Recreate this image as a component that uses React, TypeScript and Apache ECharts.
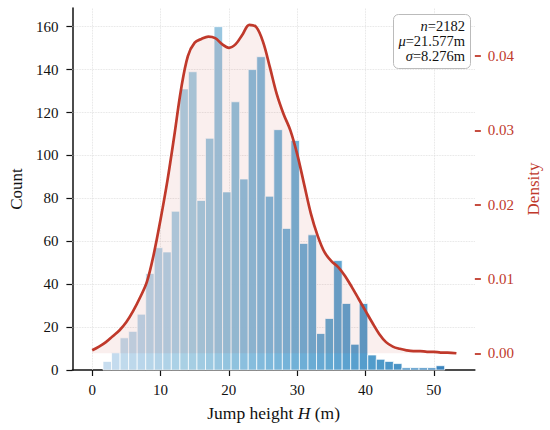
import React, { useEffect, useRef } from "react";
import * as echarts from "echarts";

// Histogram: 40 bins starting at 1.58 m, width 1.25 m
const BIN_START = 1.58;
const BIN_WIDTH = 1.25;
const counts = [
  4, 8, 15, 18, 26, 45, 57, 55, 74, 131,
  139, 79, 108, 160, 83, 125, 89, 140, 146, 81,
  112, 66, 107, 59, 63, 17, 24, 51, 31, 12,
  31, 7, 5, 4, 3, 1, 1, 1, 1, 2,
];

// KDE curve (density)
const kdeX = [
  0, 1, 2, 3, 4, 5, 6, 7, 8, 9, 10, 11, 12, 13, 14, 15, 16, 17, 18, 19, 20,
  21, 22, 23, 24, 25, 26, 27, 28, 29, 30, 31, 32, 33, 34, 35, 36, 37, 38, 39,
  40, 41, 42, 43, 44, 45, 46, 47, 48, 49, 50, 51, 52, 53.3,
];
const kdeY = [
  0.0004, 0.0009, 0.0015, 0.0023, 0.0031, 0.0042, 0.0057, 0.0075, 0.0096, 0.0133,
  0.018, 0.0232, 0.0292, 0.0355, 0.04, 0.0418, 0.0423, 0.0426, 0.0424, 0.0416,
  0.0411, 0.0416, 0.0429, 0.0442, 0.0439, 0.0419, 0.0385, 0.0349, 0.0322, 0.03,
  0.0268, 0.0228, 0.0188, 0.0158, 0.0136, 0.0124, 0.0116, 0.0104, 0.0089, 0.0073,
  0.0057, 0.0041, 0.0026, 0.0015, 0.0009, 0.0006, 0.0004, 0.0003, 0.0003, 0.0002,
  0.0002, 0.0001, 0.0001, 0.0,
];

const xTicks = [0, 10, 20, 30, 40, 50];
const countTicks = [0, 20, 40, 60, 80, 100, 120, 140, 160];
const densityTicks = [0, 0.01, 0.02, 0.03, 0.04];

const statsLines = [
  { sym: "n", val: "=2182" },
  { sym: "μ", val: "=21.577m" },
  { sym: "σ", val: "=8.276m" },
];

const FONT = "Liberation Serif";
const RED = "#c0392b";
const BLUES = ["#c6dbef", "#9ecae1", "#6baed6", "#4292c6", "#2171b5"];

export default function App() {
  const ref = useRef<HTMLDivElement>(null);

  useEffect(() => {
    if (!ref.current) return;
    const chart = echarts.init(ref.current, undefined, { renderer: "svg" });

    const n = counts.length;
    const barData = counts.map((c, i) => [
      BIN_START + i * BIN_WIDTH,
      BIN_START + (i + 1) * BIN_WIDTH,
      c,
    ]);
    const barColors = counts.map((_, i) =>
      echarts.color.lerp(0.02 + (i / (n - 1)) * 0.9, BLUES)
    );
    const kdeData = kdeX.map((x, i) => [x, kdeY[i]]);

    const gridLineData: any[] = [
      ...xTicks.map((v) => ({ xAxis: v })),
      ...countTicks.filter((v) => v > 0).map((v) => ({ yAxis: v })),
    ];

    const labelRich = (color: string) => ({
      t: { fontFamily: FONT, fontSize: 15, color },
    });

    const statsText = statsLines
      .map((l) => `{i|${l.sym}}{r|${l.val}}`)
      .join("\n");

    const option: any = {
      animation: false,
      backgroundColor: "#fff",
      textStyle: { fontFamily: FONT },
      grid: { left: 68, right: 72, top: 8, bottom: 60, containLabel: false },
      xAxis: {
        type: "value",
        min: -2.9,
        max: 56.0,
        name: "Jump height {i|H} (m)",
        nameLocation: "middle",
        nameGap: 34,
        nameTextStyle: {
          fontFamily: FONT,
          fontSize: 17.5,
          color: "#111",
          rich: {
            i: { fontFamily: FONT, fontSize: 17.5, fontStyle: "italic", color: "#111" },
          },
        },
        axisLine: { show: true, onZero: false, lineStyle: { color: "#111", width: 1.5 } },
        axisTick: {
          show: true,
          customValues: xTicks,
          length: 6,
          lineStyle: { color: "#111", width: 1.2 },
        },
        axisLabel: {
          fontFamily: FONT,
          fontSize: 15,
          color: "#111",
          customValues: xTicks,
          margin: 12,
          formatter: (v: number) => `{t|${v}}`,
          rich: labelRich("#111"),
        },
        splitLine: { show: false },
      },
      yAxis: [
        {
          type: "value",
          position: "left",
          min: 0,
          max: 168.7,
          name: "Count",
          nameLocation: "middle",
          nameGap: 42,
          nameRotate: 90,
          nameTextStyle: { fontFamily: FONT, fontSize: 17, color: "#111" },
          axisLine: { show: true, onZero: false, lineStyle: { color: "#111", width: 1.5 } },
          axisTick: {
            show: true,
            customValues: countTicks,
            length: 6,
            lineStyle: { color: "#111", width: 1.2 },
          },
          axisLabel: {
            fontFamily: FONT,
            fontSize: 15,
            color: "#111",
            customValues: countTicks,
            margin: 14,
            formatter: (v: number) => `{t|${v}}`,
            rich: labelRich("#111"),
          },
          splitLine: { show: false },
        },
        {
          type: "value",
          position: "right",
          min: -0.00225,
          max: 0.04646,
          name: "Density",
          nameLocation: "middle",
          nameGap: 48,
          nameRotate: 90,
          nameTextStyle: { fontFamily: FONT, fontSize: 17, color: RED },
          axisLine: { show: false, onZero: false },
          axisTick: {
            show: true,
            customValues: densityTicks,
            length: 6,
            lineStyle: { color: RED, width: 1.8 },
          },
          axisLabel: {
            fontFamily: FONT,
            fontSize: 15,
            color: RED,
            customValues: densityTicks,
            margin: 13,
            formatter: (v: number) => `{t|${v.toFixed(2)}}`,
            rich: labelRich(RED),
          },
          splitLine: { show: false },
        },
      ],
      series: [
        {
          type: "custom",
          name: "Count",
          xAxisIndex: 0,
          yAxisIndex: 0,
          z: 2,
          data: barData,
          encode: { x: [0, 1], y: 2 },
          renderItem: (params: any, api: any) => {
            const p0 = api.coord([api.value(0), 0]);
            const p1 = api.coord([api.value(1), api.value(2)]);
            return {
              type: "rect",
              shape: {
                x: p0[0],
                y: p1[1],
                width: p1[0] - p0[0],
                height: p0[1] - p1[1],
              },
              style: {
                fill: barColors[params.dataIndex],
                opacity: 0.93,
                stroke: "#ffffff",
                lineWidth: 0.8,
              },
            };
          },
          markLine: {
            silent: true,
            symbol: "none",
            z: 1,
            label: { show: false },
            lineStyle: { color: "#dcdcdc", type: "dotted", width: 0.8 },
            data: gridLineData,
          },
        },
        {
          type: "line",
          name: "Density",
          xAxisIndex: 0,
          yAxisIndex: 1,
          z: 3,
          data: kdeData,
          smooth: 0.35,
          showSymbol: false,
          symbol: "none",
          lineStyle: { color: RED, width: 2.7 },
          areaStyle: { color: "rgba(192,57,43,0.12)" },
        },
      ],
      graphic: [
        {
          type: "rect",
          z: 100,
          shape: { x: 393.5, y: 14.5, width: 77, height: 54, r: 5 },
          style: { fill: "#ffffff", stroke: "#bbbbbb", lineWidth: 1 },
        },
        {
          type: "text",
          z: 101,
          x: 465,
          y: 18.5,
          style: {
            text: statsText,
            align: "right",
            verticalAlign: "top",
            fontFamily: FONT,
            fontSize: 14.5,
            lineHeight: 15,
            fill: "#111",
            rich: {
              i: {
                fontFamily: FONT,
                fontSize: 14.5,
                fontStyle: "italic",
                lineHeight: 15,
                fill: "#111",
              },
              r: {
                fontFamily: FONT,
                fontSize: 14.5,
                lineHeight: 15,
                fill: "#111",
              },
            },
          },
        },
      ],
    };

    chart.setOption(option);
    return () => chart.dispose();
  }, []);

  return (
    <div
      ref={ref}
      style={{ position: "absolute", left: 0, top: 0, width: 550, height: 430 }}
    />
  );
}
